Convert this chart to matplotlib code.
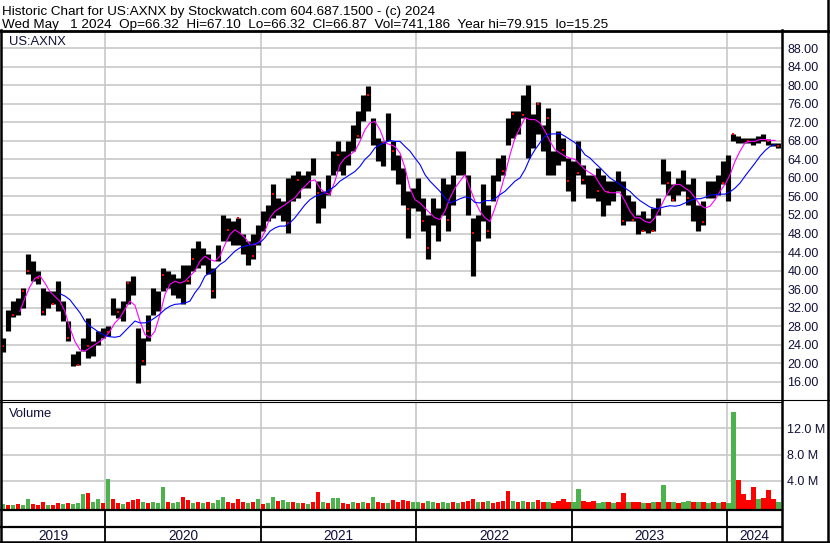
import matplotlib
matplotlib.use("Agg")
import matplotlib.dates as mdates
import matplotlib.pyplot as plt
import matplotlib.transforms as mtransforms
import numpy as np
import pandas as pd
from matplotlib.lines import Line2D

plt.rcParams["font.family"] = ["Liberation Sans", "DejaVu Sans"]

W, H = 830, 543

# price samples (roughly every 12 days), high / low of each sample
price_high = [
    25.5, 31.5, 33.5, 34.0, 36.3, 43.5, 42.0, 39.9, 36.3, 35.5,
    35.5, 37.7, 33.4, 29.1, 21.9, 22.6, 25.5, 29.8, 24.7, 27.0,
    27.6, 28.0, 34.0, 32.0, 33.4, 37.7, 38.8, 27.6, 25.5, 30.5,
    36.3, 35.5, 40.6, 39.9, 39.2, 38.4, 41.3, 41.3, 44.9, 46.3,
    44.9, 43.5, 40.6, 45.6, 52.1, 51.4, 50.6, 51.4, 47.8, 46.3,
    47.8, 49.9, 52.8, 54.2, 58.6, 55.7, 55.0, 60.0, 60.7, 61.4,
    60.7, 61.4, 64.3, 59.3, 57.1, 60.7, 65.8, 67.9, 65.8, 67.9,
    71.5, 74.4, 78.0, 79.8, 73.0, 68.6, 67.9, 74.0, 67.9,
    65.0, 62.2, 57.1, 57.8, 60.0, 55.7, 52.1, 55.7, 53.5, 60.0,
    58.6, 60.7, 65.8, 65.8, 60.7, 51.4, 52.1, 58.6, 54.2, 60.7,
    64.3, 65.0, 73.0, 74.4, 74.4, 78.0, 80.1, 73.7, 76.5, 71.5,
    75.1, 65.8, 70.1, 68.6, 64.3, 63.6, 67.9, 62.9, 60.7,
    60.7, 62.2, 60.7, 59.3, 59.3, 61.4, 59.3, 56.4, 55.0, 52.1,
    52.8, 51.4, 53.5, 55.7, 64.0, 61.4, 58.6, 60.0, 61.8, 58.6,
    60.0, 54.2, 55.0, 59.3, 59.3, 60.7, 63.6, 65.0, 69.4, 69.0,
    68.6, 68.6, 68.6, 69.0, 69.4, 68.3, 67.6, 67.6,
]
price_low = [
    22.5, 27.0, 30.0, 30.5, 32.0, 39.2, 37.7, 37.0, 30.5, 32.0,
    32.7, 31.2, 29.1, 24.7, 19.4, 19.7, 22.6, 21.2, 21.5, 24.0,
    25.5, 25.8, 30.5, 29.8, 29.1, 32.7, 34.8, 15.8, 19.7, 24.7,
    30.5, 31.2, 35.5, 36.3, 34.8, 34.1, 32.7, 37.0, 39.9, 40.6,
    41.3, 39.2, 34.1, 42.0, 46.3, 46.3, 45.6, 45.6, 43.5, 41.3,
    42.4, 45.6, 48.5, 50.6, 51.4, 52.1, 50.6, 48.1, 55.0, 55.7,
    57.8, 57.8, 60.7, 50.3, 53.5, 56.4, 60.7, 61.4, 60.7, 62.9,
    65.8, 68.6, 72.2, 74.4, 67.2, 63.6, 62.5, 67.9, 61.8,
    58.6, 54.2, 47.1, 53.5, 52.8, 48.5, 42.6, 49.9, 46.3, 52.1,
    48.5, 54.2, 60.7, 60.7, 52.1, 38.8, 46.3, 50.6, 47.1, 55.0,
    59.3, 60.7, 67.2, 68.6, 69.4, 73.0, 64.3, 66.5, 69.4, 65.8,
    60.7, 60.7, 62.9, 63.6, 57.1, 55.0, 60.7, 58.6, 55.7,
    55.7, 55.0, 51.7, 54.2, 55.0, 57.1, 49.9, 50.6, 50.6, 47.8,
    48.5, 48.1, 48.5, 52.1, 58.6, 56.4, 55.0, 56.4, 57.1, 54.2,
    50.6, 48.5, 49.9, 55.7, 55.7, 56.4, 58.6, 55.0, 67.9, 67.6,
    67.6, 67.6, 67.2, 67.6, 67.9, 67.2, 66.8, 66.5,
]

# red marks on the price bars: sample index and price
red_idx = [0, 2, 4, 5, 7, 8, 10, 13, 15, 17, 21, 23, 25, 28, 29, 32, 37, 38,
           42, 45, 47, 50, 54, 57, 59, 63, 67, 71, 73, 76,
           78, 81, 84, 85, 89, 94, 97, 100, 102, 104, 107, 109, 112, 113, 115, 116,
           119, 121, 124, 126, 128, 130, 133, 134, 137, 140, 144, 146, 149, 153, 155]
red_price = [23.7, 30.4, 35.5, 39.9, 38.4, 31.1, 32.7, 25.5, 19.7, 23.7, 26.8, 31.1, 37.3, 20.5, 26.9, 39.1, 37.7, 42.4,
             35.5, 48.8, 51.4, 43.1, 56.6, 50.3, 59.6, 56.8, 65.0, 69.0, 78.0, 67.6,
             65.8, 53.2, 50.6, 44.9, 51.0, 48.1, 48.5, 61.5, 73.7, 73.5, 76.0, 72.9, 66.0, 59.3, 61.0, 59.6,
             57.1, 57.0, 50.6, 51.0, 48.5, 48.5, 58.9, 55.3, 55.7, 50.5, 58.9, 69.4, 67.9, 68.0, 66.8]

# magenta (short) moving average, mid-Jun 2019 .. late Apr 2024
ma_short = [
    31.2, 34.0, 36.5, 38.3, 38.9, 37.3, 35.5, 34.4, 33.4, 31.2,
    27.6, 24.7, 22.9, 22.6, 23.3, 24.0, 24.7, 25.5, 26.9, 28.7,
    29.8, 31.6, 33.4, 32.5, 29.1, 26.2, 25.5, 26.9, 30.5, 34.8,
    37.0, 37.7, 37.3, 37.7, 38.8, 39.9, 42.0, 43.1, 42.4, 42.0,
    43.1, 45.6, 47.8, 48.8, 48.1, 47.1, 45.6, 45.6, 46.3, 48.5,
    51.4, 52.8, 53.5, 54.2, 55.0, 55.7, 57.1, 58.2, 59.3, 59.6,
    57.8, 56.8, 56.4, 59.3, 62.9, 64.3, 65.0, 65.8, 67.9, 70.4,
    71.9, 72.2, 70.4, 67.6, 67.2, 66.8, 65.4, 62.2, 57.8, 55.3,
    54.6, 53.5, 52.4, 51.4, 51.0, 52.8, 55.7, 57.8, 59.3, 60.7,
    57.8, 55.0, 52.8, 51.4, 50.6, 53.5, 56.8, 60.7, 65.0, 68.6,
    70.8, 73.0, 72.6, 72.6, 71.9, 70.1, 67.9, 66.1, 65.4, 64.7,
    64.3, 64.0, 62.9, 61.8, 61.1, 60.4, 58.6, 57.1, 56.8, 56.8,
    56.8, 55.0, 52.8, 51.4, 51.4, 50.6, 50.3, 51.4, 53.5, 55.7,
    57.5, 58.6, 58.6, 57.8, 57.1, 55.7, 54.2, 53.5, 53.9, 55.3,
    57.1, 58.6, 60.7, 63.6, 65.8, 67.6, 67.9, 67.9, 68.3, 68.3,
    68.1, 68.1,
]

# blue (long) moving average, mid-Sep 2019 .. late Apr 2024
ma_long = [
    35.0, 34.5, 33.7, 32.3, 30.9, 29.1, 28.0, 27.3, 26.5, 26.0,
    25.7, 25.6, 25.8, 26.9, 28.0, 29.1, 28.7, 28.7, 29.1, 29.8,
    30.6, 31.6, 32.3, 32.7, 32.8, 33.0, 33.4, 35.2, 36.6, 38.8,
    39.5, 40.2, 41.3, 42.0, 43.1, 44.2, 44.9, 45.3, 45.5, 45.8,
    46.0, 47.1, 48.5, 49.2, 49.6, 49.6, 50.3, 51.4, 52.8, 54.2,
    55.3, 56.0, 56.4, 56.8, 57.5, 58.2, 59.3, 60.0, 60.7, 61.4,
    62.5, 64.0, 65.0, 66.5, 67.2, 67.6, 68.1, 67.9, 67.9, 66.8,
    65.8, 64.3, 62.9, 60.7, 59.3, 58.2, 57.1, 55.7, 54.6, 55.0,
    55.5, 55.9, 55.7, 54.7, 54.6, 55.1, 55.1, 55.5, 56.4, 57.1,
    58.2, 59.3, 60.0, 61.8, 64.3, 66.1, 67.6, 69.0, 69.5, 69.5,
    69.6, 69.0, 68.3, 67.6, 66.5, 65.0, 64.3, 63.2, 62.2, 61.1,
    60.0, 59.3, 58.6, 57.8, 57.1, 56.0, 55.1, 54.4, 53.7, 53.4,
    53.5, 53.8, 54.0, 53.9, 54.1, 54.6, 55.1, 55.5, 55.5, 55.8,
    56.3, 56.4, 56.5, 56.5, 57.0, 57.8, 58.9, 60.4, 61.8, 63.2,
    64.7, 65.9, 66.8, 67.2,
]

# volume in millions per sample, with up (g) / down (r) colour
volume_m = [
    0.4, 0.3, 0.3, 0.4, 0.3, 1.2, 0.5, 0.3, 0.7, 0.3,
    0.3, 0.6, 0.5, 0.6, 0.4, 0.6, 2.0, 2.1, 0.7, 1.2,
    0.6, 4.3, 1.3, 0.6, 0.5, 0.8, 1.1, 1.3, 0.8, 0.6,
    0.7, 0.6, 3.0, 0.8, 0.6, 0.8, 1.5, 1.0, 0.6, 0.7,
    0.6, 0.8, 0.6, 1.0, 1.5, 0.7, 0.6, 1.3, 0.8, 0.6,
    0.7, 1.3, 0.5, 0.6, 1.5, 0.9, 1.0, 0.8, 0.7, 0.6,
    0.6, 0.5, 0.7, 2.3, 0.8, 0.6, 1.4, 1.4, 0.6, 0.5,
    0.7, 0.6, 0.8, 0.6, 1.5, 0.7, 0.6, 0.6, 1.1, 0.8,
    1.0, 0.9, 0.7, 0.8, 0.6, 0.9, 0.7, 0.6, 0.7, 0.6,
    0.8, 0.6, 0.7, 0.9, 1.2, 0.8, 0.7, 0.9, 0.6, 0.8,
    0.9, 2.4, 0.9, 0.8, 0.9, 0.7, 0.8, 1.0, 0.7, 0.8,
    0.6, 0.9, 1.2, 0.8, 0.7, 2.7, 0.9, 0.8, 0.9, 0.6,
    0.8, 0.7, 0.6, 0.7, 2.2, 0.7, 0.8, 0.7, 0.6, 0.6,
    0.8, 0.7, 3.4, 0.8, 0.8, 0.6, 0.7, 0.9, 0.8, 0.7,
    0.8, 0.6, 0.7, 0.6, 0.7, 0.6, 14.5, 4.1, 2.0, 1.0,
    3.0, 1.2, 1.4, 2.6, 1.2, 0.8,
]
volume_dir = ("grgrggrrrg" "rrgrgggrgg" "rgrrgrrrgr" "gggrggrrgr"
              "grgggrrrrg" "rgrggrggrg" "rgrrgrggrr" "grgrgrrgrr"
              "rrggrggrgg" "rgrrrgrgrr" "rrgrgrgrrg" "rrrrggrrrg"
              "grgrrgrrgr" "grgrgrggrg" "rgrgrggrrr" "rgrrrg")

price_ticks = list(range(16, 89, 4))
volume_ticks = [4, 8, 12]
years = [2019, 2020, 2021, 2022, 2023, 2024]

header_1 = "Historic Chart for US:AXNX by Stockwatch.com 604.687.1500 - (c) 2024"
header_2 = ("Wed May   1 2024  Op=66.32  Hi=67.10  Lo=66.32  Cl=66.87  "
            "Vol=741,186  Year hi=79.915  lo=15.25")

dates = pd.date_range("2019-05-06", "2024-05-01", periods=len(price_high))
dates_short = pd.date_range("2019-06-15", "2024-04-23", periods=len(ma_short))
dates_long = pd.date_range("2019-09-17", "2024-04-23", periods=len(ma_long))
x_left, x_right = pd.Timestamp("2019-05-04"), pd.Timestamp("2024-05-07")

GRID = "#c8c8c8"
GREEN = "#4cb24c"
TXT = "#10103a"
FS = 9


def fx(px):
    return px / W


def fy(py):
    return 1 - py / H


fig = plt.figure(figsize=(W / 100, H / 100), dpi=100)
ax = fig.add_axes([fx(2), fy(401), (781 - 2) / W, (401 - 31) / H])
axv = fig.add_axes([fx(2), fy(509), (781 - 2) / W, (509 - 402) / H])

year_starts = [pd.Timestamp(f"{yr}-01-01") for yr in years[1:]]

for a in (ax, axv):
    a.set_xlim(x_left, x_right)
    for s in a.spines.values():
        s.set_visible(False)
    a.tick_params(axis="x", bottom=False, labelbottom=False)
    a.yaxis.tick_right()
    a.tick_params(axis="y", length=0, pad=4.5, labelsize=FS, labelcolor=TXT)
    for ys in year_starts:
        a.axvline(ys, color=GRID, lw=1.2, zorder=0)

# price panel
ax.set_ylim(11.83, 91.73)
ax.set_yticks(price_ticks)
ax.set_yticklabels([f"{t:.2f}" for t in price_ticks])
for t in price_ticks:
    ax.axhline(t, color=GRID, lw=1.2, zorder=0)

ax.vlines(dates, price_low, price_high, colors="black", linewidth=3.7, zorder=2)
ax.plot(dates[red_idx], red_price, "s", color="red", markersize=1.6,
        markeredgewidth=0, zorder=3)
ax.plot(dates_short, ma_short, color="#ff00ff", lw=0.8, zorder=4)
ax.plot(dates_long, ma_long, color="#0000ff", lw=0.8, zorder=4)
fig.text(fx(9), fy(45), "US:AXNX", fontsize=9.4, color=TXT, va="baseline")

# volume panel
vol_bottom = -0.3
axv.set_ylim(vol_bottom, 16.03)
axv.set_yticks(volume_ticks)
axv.set_yticklabels([f"{t:.1f} M" for t in volume_ticks])
for t in volume_ticks:
    axv.axhline(t, color=GRID, lw=1.2, zorder=0)
vol_colors = [GREEN if c == "g" else "#ff0000" for c in volume_dir]
axv.bar(dates, np.array(volume_m) - vol_bottom, bottom=vol_bottom, width=10.5,
        color=vol_colors, zorder=2)
fig.text(fx(9), fy(417), "Volume", fontsize=9.4, color=TXT, va="baseline")

# year row below the volume panel
blend = mtransforms.blended_transform_factory(axv.transData, fig.transFigure)
bounds = [mdates.date2num(b) for b in [x_left] + year_starts + [x_right]]
for i, yr in enumerate(years):
    mid = (bounds[i] + bounds[i + 1]) / 2
    axv.text(mid, fy(540), str(yr), transform=blend, ha="center", va="baseline",
             fontsize=9.8, color=TXT)
for b in bounds[1:-1]:
    fig.add_artist(Line2D([b, b], [fy(510), fy(541)], transform=blend,
                          color="black", lw=1.3))

# header text
fig.text(fx(2), fy(15), header_1, fontsize=9.7, color="black", va="baseline")
fig.text(fx(2), fy(28), header_2, fontsize=9.7, color="black", va="baseline")


# frame lines
def hline(y, x0, x1, lw):
    fig.add_artist(Line2D([fx(x0), fx(x1)], [fy(y), fy(y)], color="black", lw=lw))


def vline(x, y0, y1, lw):
    fig.add_artist(Line2D([fx(x), fx(x)], [fy(y0), fy(y1)], color="black", lw=lw))


hline(30.5, 0, 829, 2.0)
hline(400, 0, 829, 0.8)
hline(402.2, 0, 782, 0.8)
hline(510, 0, 782, 1.6)
hline(527, 0, 782, 1.6)
hline(541.5, 0, 829, 1.8)
vline(1, 30, 542, 1.8)
vline(782, 30, 542, 1.8)
vline(828, 0, 542, 1.8)

fig.savefig("out.png", dpi=100)
